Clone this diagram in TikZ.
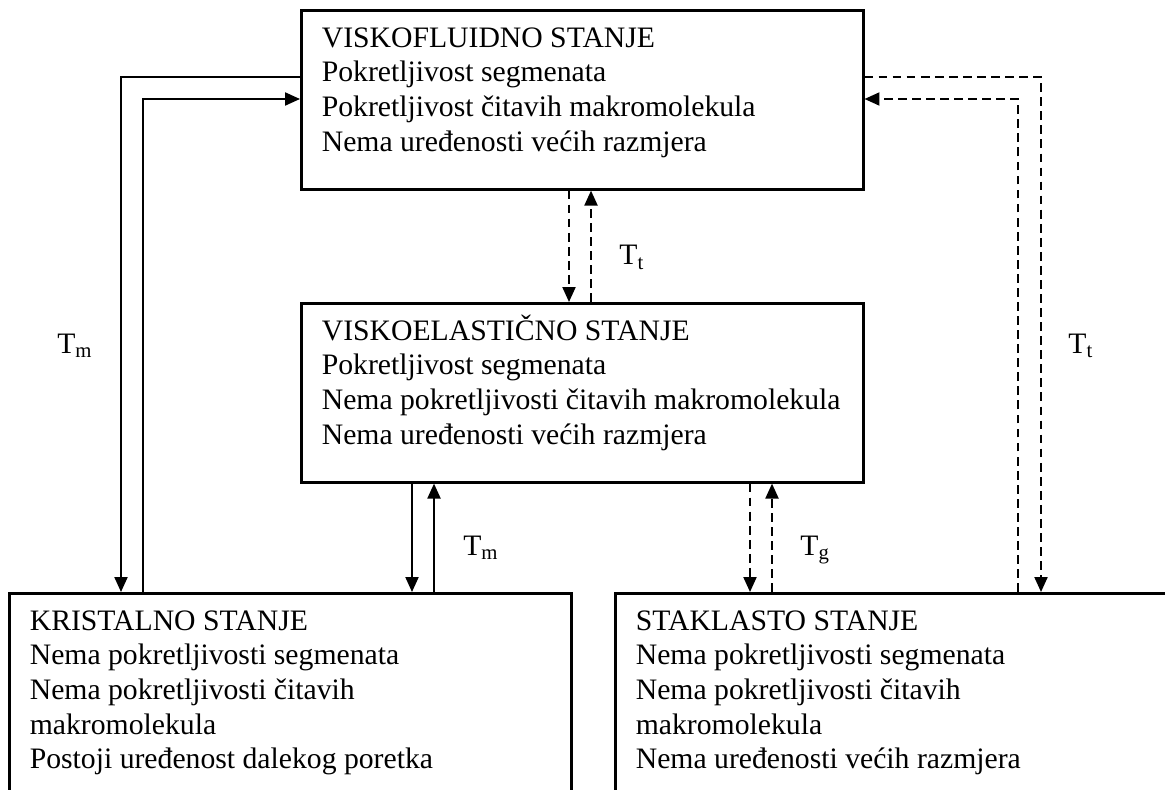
\documentclass[tikz,border=0pt]{standalone}
\usepackage{fontspec}
\setmainfont{Liberation Serif}
\usetikzlibrary{arrows.meta}

\tikzset{
  state/.style={draw, line width=1.5pt, anchor=north west, inner xsep=0.41cm, inner ysep=0pt},
  link/.style={line width=1.1pt, -{Triangle[length=8.5pt,width=7.4pt]}},
  dlink/.style={link, dash pattern=on 5pt off 3pt},
  lbl/.style={anchor=base west, inner sep=0pt}
}
\newcommand{\statetext}[3]{\parbox[b][#1][t]{#2}{\begin{tabular}[t]{@{}l@{}}\rule{0pt}{0.74cm}#3\end{tabular}}}

\begin{document}
\begin{tikzpicture}[x=0.02cm, y=-0.02cm, font=\fontsize{16.9pt}{19.7pt}\selectfont]
    \useasboundingbox (0,0) rectangle (1165,790);
    % states
    \node[state] (vf) at (300,9) {\statetext{3.58cm}{10.42cm}{VISKOFLUIDNO STANJE\\ Pokretljivost segmenata\\ Pokretljivost čitavih makromolekula\\ Nema uređenosti većih razmjera}};
    \node[state] (ve) at (300,302) {\statetext{3.58cm}{10.42cm}{VISKOELASTIČNO STANJE\\ Pokretljivost segmenata\\ Nema pokretljivosti čitavih makromolekula\\ Nema uređenosti većih razmjera}};
    \node[state] (kr) at (8,592) {\statetext{4.3cm}{10.42cm}{KRISTALNO STANJE\\ Nema pokretljivosti segmenata\\ Nema pokretljivosti čitavih\\ makromolekula\\ Postoji uređenost dalekog poretka}};
    \node[state] (st) at (614,592) {\statetext{4.3cm}{11cm}{STAKLASTO STANJE\\ Nema pokretljivosti segmenata\\ Nema pokretljivosti čitavih\\ makromolekula\\ Nema uređenosti većih razmjera}};
    % lanes
    \coordinate (a1) at (121,0); \coordinate (a2) at (143,0);
    \coordinate (b1) at (569,0); \coordinate (b2) at (591,0);
    \coordinate (c1) at (412,0); \coordinate (c2) at (434,0);
    \coordinate (d1) at (750,0); \coordinate (d2) at (772,0);
    \coordinate (e1) at (1018,0); \coordinate (e2) at (1041,0);
    \coordinate (r1) at (0,77); \coordinate (r2) at (0,99);
    % transitions
    \draw[link] (vf.west |- r1) -| (kr.north -| a1);
    \draw[link] (kr.north -| a2) |- (vf.west |- r2);
    \draw[dlink] (vf.east |- r1) -| (st.north -| e2);
    \draw[dlink] (st.north -| e1) |- (vf.east |- r2);
    \draw[dlink] (vf.south -| b1) -- (ve.north -| b1);
    \draw[dlink] (ve.north -| b2) -- (vf.south -| b2);
    \draw[link] (ve.south -| c1) -- (kr.north -| c1);
    \draw[link] (kr.north -| c2) -- (ve.south -| c2);
    \draw[dlink] (ve.south -| d1) -- (st.north -| d1);
    \draw[dlink] (st.north -| d2) -- (ve.south -| d2);
    % temperatures
    \node[lbl] (tt1) at (619,265) {T\textsubscript{t}};
    \node[lbl] (tm1) at (57,353) {T\textsubscript{m}};
    \node[lbl] (tt2) at (1068,353) {T\textsubscript{t}};
    \node[lbl] (tm2) at (463,555) {T\textsubscript{m}};
    \node[lbl] (tg) at (800,555) {T\textsubscript{g}};
\end{tikzpicture}
\end{document}
